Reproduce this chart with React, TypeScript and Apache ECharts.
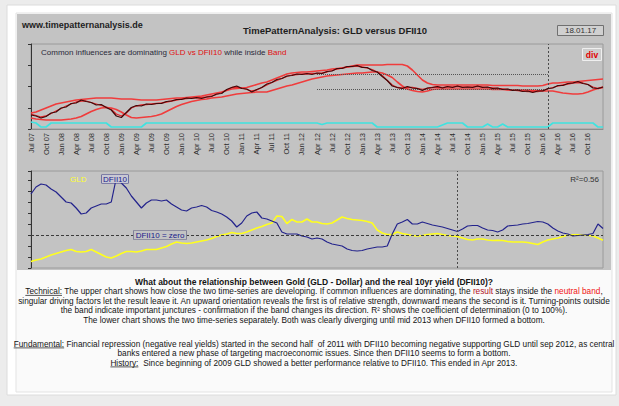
import React, { useEffect, useRef } from 'react';
import * as echarts from 'echarts';

const FONT = '"Liberation Sans", Arial, Helvetica, sans-serif';

// ---- categories: monthly from Jul 2007 to Jan 2017 ----
const MONTH_NAMES = ['Jan', 'Feb', 'Mar', 'Apr', 'May', 'Jun', 'Jul', 'Aug', 'Sep', 'Oct', 'Nov', 'Dec'];
const FIRST_YEAR = 2007;
const FIRST_MONTH = 6; // July
const MONTH_COUNT = 115;
const LAST_LABEL_INDEX = 111; // Oct 16
const months: string[] = [];
for (let i = 0; i < MONTH_COUNT; i++) {
  const m = (FIRST_MONTH + i) % 12;
  const y = FIRST_YEAR + Math.floor((FIRST_MONTH + i) / 12);
  months.push(`${MONTH_NAMES[m]} ${String(y % 100).padStart(2, '0')}`);
}

// ---- upper chart: GLD vs DFII10 ratio and its band ----
const ratioDark = [
  14, 13, 11, 12.5, 16, 17, 21, 22, 25.5, 26,
  29, 27.5, 26.5, 24, 24.5, 21.5, 19, 13, 11.5, 16.5,
  21.5, 23.5, 23, 25, 24.5, 25.5, 25.5, 27.5, 28, 29.5,
  29.5, 31, 30.5, 31.5, 30.5, 32, 32.5, 35, 35.5, 39.5,
  41.5, 43, 40.5, 40, 37, 39.5, 41.5, 45, 46.5, 49.5,
  50.5, 53, 53.5, 55, 54.5, 55.5, 54.5, 56, 55.5, 57.5,
  58, 60.5, 60.5, 62.5, 62.5, 63.5, 61.5, 61.5, 58.5, 57,
  52.5, 48.5, 43, 41.5, 40.5, 42.5, 41, 40.5, 38.5, 41,
  41.5, 42.5, 41, 42.5, 41.5, 43, 41.5, 42, 41.5, 43,
  41.5, 42, 40.5, 41, 39.5, 40, 38.5, 39, 37.5, 38,
  36.5, 38, 38, 40.5, 41, 43.5, 43.5, 45.5, 46, 47.5,
  45.5, 44.5, 41, 40.5, 42,
];
const ratioRed = [
  15, 13.5, 12, 13, 15.5, 18, 20.5, 23, 25, 27,
  28, 28, 26.5, 25, 23.5, 22, 19.5, 15, 13, 16,
  21, 23, 24, 24.5, 25, 25.5, 26, 27, 28, 29,
  30, 30.5, 31, 31, 31.5, 32, 33, 34.5, 36.5, 39,
  41.5, 42, 41, 39.5, 38, 39, 41.5, 44, 46.5, 48.5,
  50.5, 52.5, 54, 54.5, 55, 55, 55.5, 55.5, 56, 57,
  58.5, 60, 61, 62, 62.5, 63, 62, 61, 59.5, 57,
  53.5, 48.5, 44, 41.5, 41, 41.5, 41.5, 40.5, 39.5, 40.5,
  41.5, 42, 41.5, 42, 42, 42.5, 42, 42, 42, 42.5,
  42, 41.5, 41, 40.5, 40, 39.5, 39, 38.5, 38, 37.5,
  37.5, 37.5, 38.5, 40, 41.5, 43, 44, 45, 46, 46.5,
  46, 44.5, 42, 40.5, 41.5,
];
const bandUpper = [
  16, 17, 19, 21, 23, 25, 26, 27, 28, 29,
  29.5, 30, 30.5, 31, 31, 31, 31, 30.5, 30, 30,
  30, 29.5, 29, 29, 29, 29, 29.5, 30, 30.5, 31,
  31, 31.5, 32, 32.5, 33, 34, 35, 36, 37, 38.5,
  40, 40.5, 41, 41.5, 43, 44.5, 46, 47, 49, 51,
  53, 55, 56, 56.5, 57, 57, 57.5, 58, 58.5, 59,
  60, 60.5, 61, 62, 63, 64, 64, 64, 64, 64,
  64, 64.5, 64.5, 64.5, 64.5, 63, 59, 54, 49, 46,
  44.5, 44, 44, 44, 44, 44, 44, 44, 44, 44,
  44, 44, 43.5, 43.5, 43.5, 43.5, 43.5, 43.5, 43, 43,
  43, 43, 43.5, 45, 46, 46, 46.5, 47, 47, 47.5,
  48, 48.5, 49, 49.5, 50,
];
const bandLower = [
  11, 10, 9.5, 9, 9, 9, 9, 9.5, 10, 11,
  12.5, 15, 17.5, 19.5, 21, 21.5, 21, 19.5, 17, 14,
  11.5, 11, 11.5, 12, 12.5, 13.5, 15, 17.5, 20, 22.5,
  24.5, 26, 27.5, 28.5, 29.5, 30, 31, 31.5, 32, 33,
  34, 35, 35.5, 36, 36.5, 37, 37, 37, 38.5, 40,
  41.5, 43, 44, 45.5, 47, 48.5, 50, 51, 52, 53,
  53.5, 54, 54.5, 55, 55.5, 56, 56, 56.5, 57, 57,
  56, 54, 51.5, 47, 43, 40, 38.5, 37.5, 37, 38,
  39.5, 40, 40, 40, 40, 40, 40, 40, 40, 40,
  40, 40, 39.5, 39.5, 39.5, 39, 39, 39, 39, 39,
  38.5, 38.5, 38, 38, 38, 37, 36, 35.5, 35, 35,
  35.5, 37, 39, 40.5, 42,
];
const r2Line = [
  7, 6, 2, 2, 6, 6, 6, 6, 6, 6,
  6, 6, 6, 6, 6, 6, 2, 2, 2, 2,
  2, 2, 2, 6, 6, 6, 6, 6, 6, 6,
  6, 6, 6, 6, 6, 6, 6, 6, 6, 6,
  6, 6, 6, 6, 6, 6, 6, 6, 6, 6,
  6, 6, 6, 6, 6, 6, 6, 6, 4.5, 6,
  6, 6, 6, 6, 6, 6, 6, 6, 6, 2,
  2, 2, 2, 2, 2, 2, 2, 2, 2, 2,
  2, 2, 4, 6, 6, 6, 6, 2, 2, 2,
  2, 5, 2, 2, 5, 2, 2, 2, 2, 2,
  2, 2, 2, 2, 6, 6, 6, 6, 6, 6,
  6, 6, 6, 2, 2,
];
const bandLevels = [40, 55];
const bandFrom = 57;
const upperMarkIndex = 103;

// ---- lower chart: GLD and DFII10 separately ----
const dfii10 = [
  41, 48, 51, 50, 46, 43, 38, 33, 32, 27,
  21, 22, 27, 29, 31, 31, 33, 57, 52, 47,
  39, 33, 27, 32, 35, 35, 34, 35, 31, 28,
  25, 24, 27, 28, 29.5, 28, 24.5, 23, 21, 18,
  14, 8, 12, 19, 22, 23, 17, 16, 14, 12,
  3, 1, 1, 1, -1, -2, -4, -3, -4, -7,
  -9, -10, -11, -14, -15.5, -16, -15.5, -14, -13, -12,
  -12, -11, 1, 11, 13, 15.5, 11, 11, 13, 11.5,
  10, 9, 8, 6.5, 5, 3.5, 6, 9, 9.5, 9.5,
  7, 5, 4.5, 3, 5, 9, 9.5, 10, 11, 11.5,
  12.5, 13.5, 13, 11, 7, 4, 2, 1, -1, -0.5,
  0, 0.5, 1.5, 11, 6.5,
];
const gld = [
  -26.5, -25, -24, -22, -20, -18.5, -17, -15.5, -14.5, -16.5,
  -17, -16.5, -14.5, -17, -19.5, -22, -23, -21, -18.5, -16.5,
  -16.5, -17, -16, -14.5, -14.5, -14.5, -13, -11.5, -9, -7,
  -8, -8.5, -8, -7, -6, -5, -3.5, -1.5, 0, 1,
  2.5, 1.5, 1.5, 3, 5, 7, 8.5, 10.5, 12, 19,
  18.5, 11.5, 15.5, 13, 13, 16, 13, 13, 11.5, 11,
  12, 15, 18, 16.5, 15.5, 15, 14.5, 13.5, 12, 5,
  2, 0.5, 0.5, 3, 1.5, 0.5, -0.5, -1, -0.5, 0.5,
  1, 1.5, 0.5, -0.5, -1, -1.5, -3, -4.5, -5, -4,
  -4, -5, -5.5, -5.3, -5.5, -6.5, -7, -7, -7, -7.5,
  -8.5, -9.5, -7, -5, -4, -3, -1.5, 0, 0.2, 0.3,
  0, -0.3, -1, -3, -5.3,
];
const lowerMarkIndex = 85;

// ---- texts ----
const siteText = 'www.timepatternanalysis.de';
const titleText = 'TimePatternAnalysis: GLD versus DFII10';
const dateText = '18.01.17';
const r2Text = 'R²=0.56';

type Seg = { t: string; s?: string };
const paraLines: { y: number; bold?: boolean; segs: Seg[] }[] = [
  { y: 281.5, bold: true, segs: [{ t: 'What about the relationship between Gold (GLD - Dollar) and the real 10yr yield (DFII10)?' }] },
  {
    y: 291.5,
    segs: [
      { t: 'Technical:', s: 'u' },
      { t: ' The upper chart shows how close the two time-series are developing. If common influences are dominating, the ' },
      { t: 'result', s: 'dr' },
      { t: ' stays inside the ' },
      { t: 'neutral band', s: 'r' },
      { t: ',' },
    ],
  },
  { y: 301, segs: [{ t: 'singular driving factors let the result leave it. An upward orientation reveals the first is of relative strength, downward means the second is it. Turning-points outside' }] },
  { y: 310.5, segs: [{ t: 'the band indicate important junctures - confirmation if the band changes its direction. R² shows the coefficient of determination (0 to 100%).' }] },
  { y: 320, segs: [{ t: 'The lower chart shows the two time-series separately. Both was clearly diverging until mid 2013 when DFII10 formed a bottom.' }] },
  {
    y: 344,
    segs: [
      { t: 'Fundamental:', s: 'u' },
      { t: ' Financial repression (negative real yields) started in the second half  of 2011 with DFII10 becoming negative supporting GLD until sep 2012, as central' },
    ],
  },
  { y: 353.5, segs: [{ t: 'banks entered a new phase of targeting macroeconomic issues. Since then DFII10 seems to form a bottom.' }] },
  {
    y: 363,
    segs: [
      { t: 'History:', s: 'u' },
      { t: '  Since beginning of 2009 GLD showed a better performance relative to DFII10. This ended in Apr 2013.' },
    ],
  },
];

const PARA_SIZE = 8.25;
const PARA_BOLD_SIZE = 8.5;
const PARA_CX = 314;

function measure(s: string, font: string): number {
  const ctx = document.createElement('canvas').getContext('2d');
  if (!ctx) return s.length * 3.9;
  ctx.font = font;
  return ctx.measureText(s).width;
}

function buildParagraph(): any[] {
  const out: any[] = [];
  for (const line of paraLines) {
    const weight = line.bold ? 'bold' : 'normal';
    const size = line.bold ? PARA_BOLD_SIZE : PARA_SIZE;
    const font = `${weight} ${size}px ${FONT}`;
    const full = line.segs.map((g) => g.t).join('');
    const text = line.segs.map((g) => (g.s ? `{${g.s}|${g.t}}` : `{n|${g.t}}`)).join('');
    const base = { fontSize: size, fontFamily: FONT, fontWeight: weight };
    out.push({
      type: 'text',
      x: PARA_CX,
      y: line.y,
      z: 50,
      style: {
        text,
        ...base,
        fill: '#141414',
        align: 'center',
        verticalAlign: 'middle',
        rich: {
          n: { ...base, fill: '#141414' },
          u: { ...base, fill: '#141414' },
          dr: { ...base, fill: '#b0101c' },
          r: { ...base, fill: '#f01414' },
        },
      },
    });
    const first = line.segs[0];
    if (first.s === 'u') {
      const total = measure(full, font);
      const left = PARA_CX - total / 2;
      const w = measure(first.t, font);
      out.push({
        type: 'line',
        z: 50,
        shape: { x1: left, y1: line.y + 3.9, x2: left + w, y2: line.y + 3.9 },
        style: { stroke: '#141414', lineWidth: 0.7 },
      });
    }
  }
  return out;
}

function buildOption(): any {
  const graphic: any[] = [
    { type: 'rect', z: -10, shape: { x: 0, y: 0, width: 619, height: 406 }, style: { fill: '#ececec' } },
    { type: 'rect', z: -9, shape: { x: 7, y: 5, width: 609, height: 390 }, style: { fill: '#ffffff', stroke: '#dcdcdc', lineWidth: 1 } },
    { type: 'rect', z: -8, shape: { x: 16, y: 13, width: 596, height: 379 }, style: { fill: '#fafafa', stroke: '#e3e3e3', lineWidth: 1 } },
    { type: 'rect', z: -7, shape: { x: 17, y: 14, width: 594, height: 256 }, style: { fill: '#c3c3c3' } },
    {
      type: 'text', x: 22, y: 25, z: 50,
      style: { text: siteText, fontSize: 9, fontWeight: 'bold', fontFamily: FONT, fill: '#1e1e1e', verticalAlign: 'middle' },
    },
    {
      type: 'text', x: 335, y: 30, z: 50,
      style: { text: titleText, fontSize: 9.5, fontWeight: 'bold', fontFamily: FONT, fill: '#1e1e1e', align: 'center', verticalAlign: 'middle' },
    },
    { type: 'rect', z: 40, shape: { x: 557.5, y: 25.5, width: 46, height: 10 }, style: { fill: '#d0d0d0', stroke: '#707070', lineWidth: 1 } },
    {
      type: 'text', x: 580.5, y: 30.8, z: 50,
      style: { text: dateText, fontSize: 8, fontFamily: FONT, fill: '#333', align: 'center', verticalAlign: 'middle' },
    },
    {
      type: 'text', x: 41, y: 52.5, z: 50,
      style: {
        text: '{n|Common influences are dominating }{r|GLD vs DFII10}{n| while inside }{r|Band}',
        fontSize: 8, fontFamily: FONT, fill: '#2a2a3a', verticalAlign: 'middle',
        rich: {
          n: { fontSize: 8, fontFamily: FONT, fill: '#2a2a3a' },
          r: { fontSize: 8, fontFamily: FONT, fill: '#e01010' },
        },
      },
    },
    { type: 'rect', z: 40, shape: { x: 582.5, y: 48.5, width: 19, height: 12 }, style: { fill: '#cdcdcd', stroke: '#efefef', lineWidth: 1 } },
    {
      type: 'text', x: 592, y: 54.8, z: 50,
      style: { text: 'div', fontSize: 8.5, fontWeight: 'bold', fontFamily: FONT, fill: '#e00000', align: 'center', verticalAlign: 'middle' },
    },
    {
      type: 'text', x: 70, y: 179, z: 50,
      style: { text: 'GLD', fontSize: 8, fontFamily: FONT, fill: '#ffff30', verticalAlign: 'middle' },
    },
    {
      type: 'text', x: 115, y: 179, z: 50,
      style: {
        text: 'DFII10', fontSize: 8, fontFamily: FONT, fill: '#1a1a8c', align: 'center', verticalAlign: 'middle',
        backgroundColor: '#c9c9d4', borderColor: '#3a3a8a', borderWidth: 0.6, padding: [0, 1],
      },
    },
    {
      type: 'text', x: 160, y: 235, z: 50,
      style: {
        text: 'DFII10 = zero', fontSize: 8, fontFamily: FONT, fill: '#1a1a8c', align: 'center', verticalAlign: 'middle',
        backgroundColor: '#c3c3c3', borderColor: '#5a5a80', borderWidth: 0.6, padding: [0, 2],
      },
    },
    {
      type: 'text', x: 599, y: 179, z: 50,
      style: { text: r2Text, fontSize: 8, fontFamily: FONT, fill: '#333', align: 'right', verticalAlign: 'middle' },
    },
    ...buildParagraph(),
  ];

  const gridBase = { left: 31, width: 572, show: true, borderColor: '#9a9a9a', borderWidth: 1, backgroundColor: 'transparent' };
  const lineBase = { type: 'line', symbol: 'none', silent: true, smooth: false };

  return {
    animation: false,
    backgroundColor: 'transparent',
    graphic,
    grid: [
      { ...gridBase, top: 44, height: 85 },
      { ...gridBase, top: 171, height: 97 },
    ],
    xAxis: [
      {
        type: 'category', gridIndex: 0, data: months, boundaryGap: false,
        axisLine: { show: true, lineStyle: { color: '#8c8c8c' } },
        axisTick: { show: false },
        axisLabel: {
          interval: (i: number) => i % 3 === 0 && i <= LAST_LABEL_INDEX,
          rotate: 90, fontSize: 7.5, fontFamily: FONT, color: '#2c2c2c', margin: 4,
        },
        splitLine: { show: false },
      },
      {
        type: 'category', gridIndex: 1, data: months, boundaryGap: false,
        axisLine: { show: false }, axisTick: { show: false }, axisLabel: { show: false }, splitLine: { show: false },
      },
    ],
    yAxis: [
      {
        type: 'value', gridIndex: 0, min: 0, max: 85, interval: 21.25,
        axisLine: { show: true, lineStyle: { color: '#333' } },
        axisTick: { show: true, length: 3, lineStyle: { color: '#333' } },
        axisLabel: { show: false }, splitLine: { show: false },
      },
      {
        type: 'value', gridIndex: 1, min: -33, max: 64, interval: 11,
        axisLine: { show: true, lineStyle: { color: '#333' } },
        axisTick: { show: true, length: 3, lineStyle: { color: '#333' } },
        axisLabel: { show: false }, splitLine: { show: false },
      },
    ],
    series: [
      { ...lineBase, name: 'Band upper', xAxisIndex: 0, yAxisIndex: 0, data: bandUpper, z: 3, lineStyle: { color: '#f03c3c', width: 1.6 } },
      { ...lineBase, name: 'Band lower', xAxisIndex: 0, yAxisIndex: 0, data: bandLower, z: 3, lineStyle: { color: '#f03c3c', width: 1.6 } },
      { ...lineBase, name: 'R2', xAxisIndex: 0, yAxisIndex: 0, data: r2Line, z: 3, lineStyle: { color: '#3fe3e0', width: 1.6 } },
      { ...lineBase, name: 'GLD vs DFII10 (red)', xAxisIndex: 0, yAxisIndex: 0, data: ratioRed, z: 4, lineStyle: { color: '#e3262b', width: 1.3 } },
      {
        ...lineBase, name: 'GLD vs DFII10', xAxisIndex: 0, yAxisIndex: 0, data: ratioDark, z: 5,
        lineStyle: { color: '#3e0a0a', width: 1.2 },
        markLine: {
          symbol: 'none', silent: true, label: { show: false },
          lineStyle: { type: 'dotted', color: '#555', width: 1 },
          data: [
            { xAxis: months[upperMarkIndex], lineStyle: { type: [2, 2], color: '#4a4a4a', width: 1 } },
            ...bandLevels.map((v) => [
              { coord: [months[bandFrom], v] },
              { coord: [months[upperMarkIndex], v] },
            ]),
          ],
        },
      },
      { ...lineBase, name: 'GLD', xAxisIndex: 1, yAxisIndex: 1, data: gld, z: 3, lineStyle: { color: '#ffff1e', width: 1.6 } },
      {
        ...lineBase, name: 'DFII10', xAxisIndex: 1, yAxisIndex: 1, data: dfii10, z: 4,
        lineStyle: { color: '#23238c', width: 1.2 },
        markLine: {
          symbol: 'none', silent: true, label: { show: false },
          lineStyle: { type: [3, 2], color: '#3c3c3c', width: 1 },
          data: [
            { yAxis: 0 },
            { xAxis: months[lowerMarkIndex], lineStyle: { type: [2, 2], color: '#4a4a4a', width: 1 } },
          ],
        },
      },
    ],
  };
}

export default function App() {
  const ref = useRef<HTMLDivElement>(null);
  useEffect(() => {
    if (!ref.current) return;
    const chart = echarts.init(ref.current, null, { renderer: 'svg' });
    chart.setOption(buildOption());
    return () => chart.dispose();
  }, []);
  return <div ref={ref} style={{ position: 'absolute', left: 0, top: 0, width: 619, height: 406 }} />;
}
